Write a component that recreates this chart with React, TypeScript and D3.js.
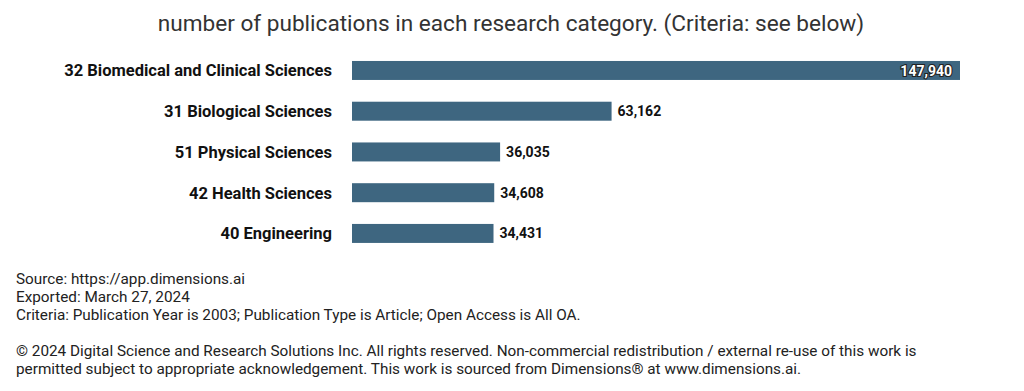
import * as d3 from 'd3';
import React from 'react';

const categories = [
  '32 Biomedical and Clinical Sciences',
  '31 Biological Sciences',
  '51 Physical Sciences',
  '42 Health Sciences',
  '40 Engineering',
];
const publications = [147940, 63162, 36035, 34608, 34431];

const footerLines = [
  'Source: https://app.dimensions.ai',
  'Exported: March 27, 2024',
  'Criteria: Publication Year is 2003; Publication Type is Article; Open Access is All OA.',
];
const copyrightLines = [
  '© 2024 Digital Science and Research Solutions Inc. All rights reserved. Non-commercial redistribution / external re-use of this work is',
  'permitted subject to appropriate acknowledgement. This work is sourced from Dimensions® at www.dimensions.ai.',
];

const width = 1024;
const height = 391;
const font = 'Roboto, sans-serif';

export default function App() {
  const data = categories.map((name, i) => ({ name, value: publications[i] }));

  const xScale = d3.scaleLinear()
    .domain([0, d3.max(publications) as number])
    .range([352, 960]);

  const yScale = d3.scaleBand()
    .domain(categories)
    .range([40.6, 263.3])
    .paddingInner(0.534)
    .paddingOuter(0.5);

  const fmt = d3.format(',');
  const barColor = '#3e6680';

  return (
    <svg width={width} height={height} style={{ position: 'absolute', left: 0, top: 0, background: '#fff' }}>
      <text x={511} y={31} textAnchor="middle" fontFamily={font} fontSize={22.6} fill="#333">
        number of publications in each research category. (Criteria: see below)
      </text>

      {data.map((d) => {
        const y = yScale(d.name) as number;
        const bh = yScale.bandwidth();
        const w = xScale(d.value) - xScale(0);
        const inside = w > 500;
        return (
          <g key={d.name}>
            <text x={332} y={y + bh / 2} dy="0.36em" textAnchor="end" fontFamily={font}
              fontWeight={700} fontSize={16.5} fill="#111">
              {d.name}
            </text>
            <rect x={xScale(0)} y={y} width={w} height={bh} fill={barColor} />
            {inside ? (
              <text x={xScale(d.value) - 8} y={y + bh / 2} dy="0.36em" textAnchor="end"
                fontFamily={font} fontWeight={700} fontSize={14} fill="#fff"
                stroke="#222" strokeWidth={2.2} paintOrder="stroke">
                {fmt(d.value)}
              </text>
            ) : (
              <text x={xScale(d.value) + 6} y={y + bh / 2} dy="0.36em"
                fontFamily={font} fontWeight={700} fontSize={14} fill="#111">
                {fmt(d.value)}
              </text>
            )}
          </g>
        );
      })}

      {footerLines.map((t, i) => (
        <text key={t} x={16} y={284 + i * 18} fontFamily={font} fontSize={15.3} fill="#222">{t}</text>
      ))}
      {copyrightLines.map((t, i) => (
        <text key={t} x={16} y={356 + i * 18} fontFamily={font} fontSize={15.3} fill="#222">{t}</text>
      ))}
    </svg>
  );
}
